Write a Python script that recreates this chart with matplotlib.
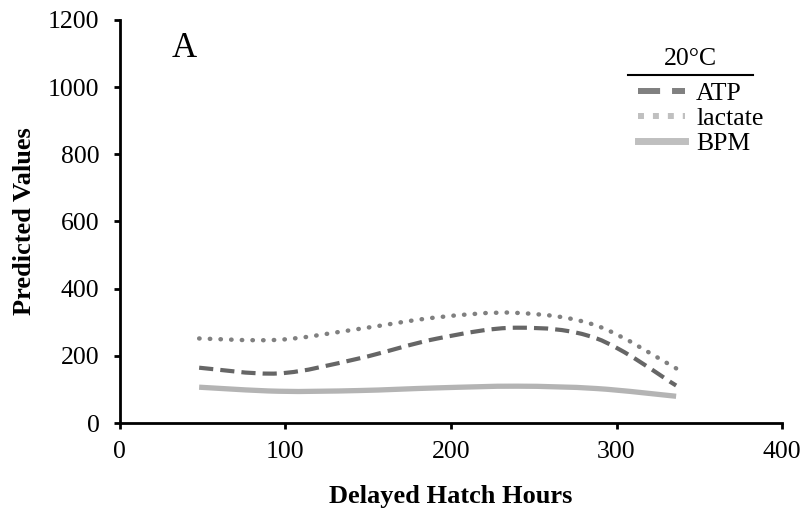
import numpy as np
import matplotlib
matplotlib.use("Agg")
import matplotlib.pyplot as plt
from matplotlib.path import Path
from matplotlib.patches import PathPatch
from matplotlib.lines import Line2D

# ============================== Données

hours = [48, 96, 144, 192, 240, 288, 336]
atp = [165, 148, 192, 252, 284, 252, 112]
lactate = [252, 248, 280, 315, 328, 290, 163]
bpm = [107, 95, 97, 105, 110, 103, 80]

x_ticks = [0, 100, 200, 300, 400]
y_ticks = [0, 200, 400, 600, 800, 1000, 1200]

plt.rcParams["font.family"] = ["Liberation Serif", "DejaVu Serif"]


def smooth_path(xs, ys):
    """Courbe lissée façon Excel (Bezier type Catmull-Rom)."""
    xs = np.asarray(xs, float)
    ys = np.asarray(ys, float)
    verts = [(xs[0], ys[0])]
    codes = [Path.MOVETO]
    n = len(xs)
    for i in range(n - 1):
        p0 = i - 1 if i > 0 else i
        p3 = i + 2 if i + 2 < n else i + 1
        c1 = (xs[i] + (xs[i + 1] - xs[p0]) / 6, ys[i] + (ys[i + 1] - ys[p0]) / 6)
        c2 = (xs[i + 1] - (xs[p3] - xs[i]) / 6, ys[i + 1] - (ys[p3] - ys[i]) / 6)
        verts += [c1, c2, (xs[i + 1], ys[i + 1])]
        codes += [Path.CURVE4] * 3
    return Path(verts, codes)


fig = plt.figure(figsize=(8.03, 5.08), dpi=100)
ax = fig.add_axes([0.149, 0.167, 0.825, 0.794])

series = [
    (atp, "#666666", (0, (3.4, 1.7)), 3.0, "butt"),
    (lactate, "#808080", (0, (0.1, 2.3)), 3.2, "round"),
    (bpm, "#b4b4b4", "-", 3.8, "butt"),
]
for ys, col, ls, lw, cap in series:
    patch = PathPatch(smooth_path(hours, ys), facecolor="none", edgecolor=col,
                      linestyle=ls, linewidth=lw, capstyle=cap, joinstyle="round")
    ax.add_patch(patch)

ax.set_xlim(0, 400)
ax.set_ylim(0, 1200)
ax.set_xticks(x_ticks)
ax.set_yticks(y_ticks)
ax.tick_params(direction="out", length=4.5, width=2, labelsize=18.5, colors="black")
ax.tick_params(axis="y", pad=10)
ax.tick_params(axis="x", pad=8)
for side in ["top", "right"]:
    ax.spines[side].set_visible(False)
for side in ["left", "bottom"]:
    ax.spines[side].set_linewidth(2)

ax.set_xlabel("Delayed Hatch Hours", fontsize=19, fontweight="bold", labelpad=16)
ax.set_ylabel("Predicted Values", fontsize=19, fontweight="bold", labelpad=9)

ax.text(0.079, 0.97, "A", transform=ax.transAxes, fontsize=25, va="top")

# ------------------------- Légende (titre séparé + trait dessous)
handles = [
    Line2D([], [], color="#808080", linestyle=(0, (3.7, 2.0)), linewidth=4.3),
    Line2D([], [], color="#c0c0c0", linestyle=(0, (1.0, 1.5)), linewidth=4.3,
           dash_capstyle="butt"),
    Line2D([], [], color="#bfbfbf", linestyle="-", linewidth=5),
]
leg = fig.legend(handles, ["ATP", "lactate", "BPM"],
                 loc="upper left", bbox_to_anchor=(638 / 803, 1 - 82 / 508),
                 frameon=False, fontsize=18.5,
                 handlelength=1.83, handletextpad=0.43, labelspacing=0.08,
                 borderpad=0.0, borderaxespad=0.0)

fig.text(690 / 803, 1 - 59 / 508, "20°C", fontsize=18.5, ha="center", va="center")
fig.add_artist(Line2D([628 / 803, 753 / 803], [1 - 75 / 508, 1 - 75 / 508],
                      transform=fig.transFigure, color="black", linewidth=1.5))

fig.savefig("out.png", dpi=100)
